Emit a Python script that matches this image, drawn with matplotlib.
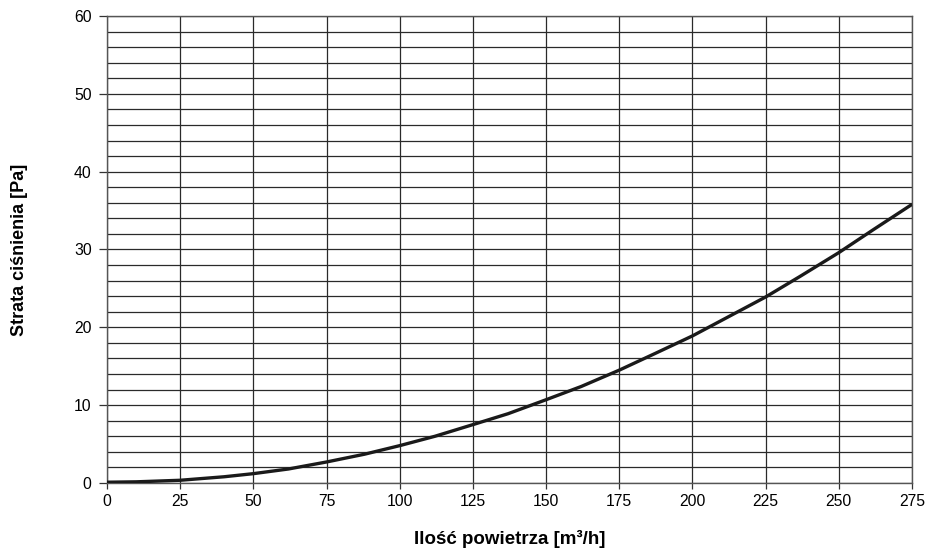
import matplotlib
matplotlib.use("Agg")
import matplotlib.pyplot as plt
import numpy as np

plt.rcParams['font.family'] = ['Liberation Sans', 'DejaVu Sans']

flow = [0, 10, 25, 40, 50, 62, 75, 88, 100, 112, 125, 137, 150, 162, 175, 187, 200, 212, 225, 237, 250, 262, 275]
loss = [0.1, 0.15, 0.35, 0.8, 1.2, 1.8, 2.7, 3.7, 4.8, 6.0, 7.5, 8.9, 10.7, 12.4, 14.5, 16.6, 18.9, 21.3, 23.9, 26.6, 29.6, 32.6, 35.8]

x_ticks = [0, 25, 50, 75, 100, 125, 150, 175, 200, 225, 250, 275]
y_ticks = [0, 10, 20, 30, 40, 50, 60]
y_minor = list(range(0, 61, 2))

fig = plt.figure(figsize=(9.28, 5.53), dpi=100)
ax = fig.add_axes([0.1153, 0.1266, 0.8675, 0.8445])

ax.set_xlim(0, 275)
ax.set_ylim(0, 60)
ax.set_xticks(x_ticks)
ax.set_yticks(y_ticks)
ax.set_yticks(y_minor, minor=True)

for v in y_minor:
    ax.axhline(v, color='#2a2a2a', lw=0.9, zorder=1)
for v in x_ticks:
    ax.axvline(v, color='#2a2a2a', lw=0.9, zorder=1)

ax.plot(flow, loss, color='#1a1a1a', lw=2.4, zorder=3, solid_capstyle='butt', solid_joinstyle='round')

for s in ax.spines.values():
    s.set_color('#555555')
    s.set_linewidth(1.0)

ax.tick_params(axis='y', which='major', length=6, width=0.9, color='#333333', labelsize=11.3, pad=5)
ax.tick_params(axis='y', which='minor', length=0)
ax.tick_params(axis='x', which='major', length=4, width=0.9, color='#333333', labelsize=11.3, pad=4)

ax.set_xlabel('Ilość powietrza [m³/h]', fontsize=13.5, fontweight='bold', labelpad=15)
ax.set_ylabel('Strata ciśnienia [Pa]', fontsize=13, fontweight='bold', labelpad=33)

fig.savefig('out.png', dpi=100)
